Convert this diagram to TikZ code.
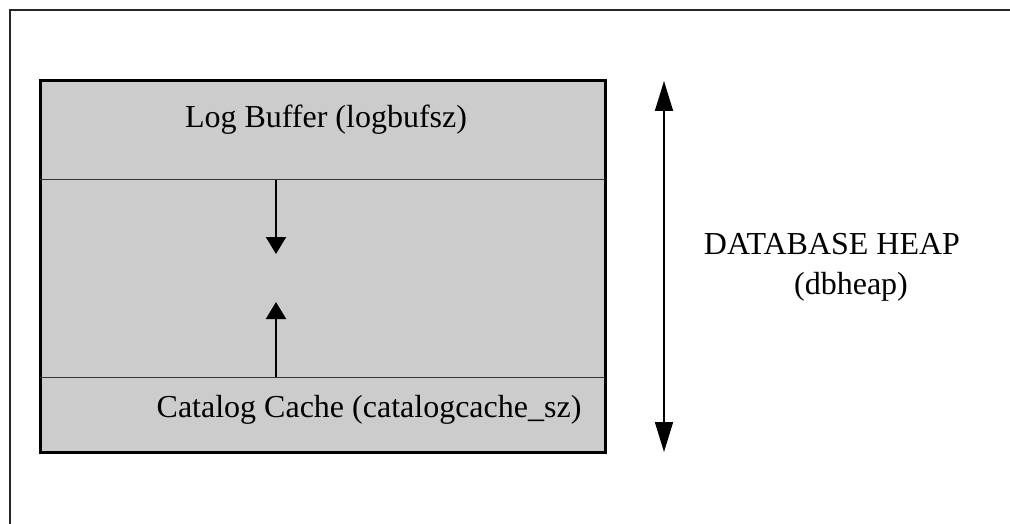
\documentclass[tikz,border=0pt]{standalone}
\usepackage{fontspec}
\setmainfont{Liberation Serif}
\usetikzlibrary{arrows.meta}
\tikzset{
  frameline/.style={line width=1.6pt, black!85},
  heapbox/.style={draw=black, line width=3pt, fill=black!20, rectangle,
                  minimum width=565pt, minimum height=371pt, inner sep=0pt},
  divider/.style={line width=1pt, black!80},
  growarrow/.style={line width=2pt, -{Triangle[width=20pt,length=17pt]}},
  spanarrow/.style={line width=1.6pt, {Triangle[width=18pt,length=30pt]}-{Triangle[width=18pt,length=30pt]}},
  label/.style={font=\fontsize{32}{36}\selectfont, inner sep=0pt}
}
\begin{document}
\begin{tikzpicture}[x=1pt,y=-1pt]
  \useasboundingbox (0,0) rectangle (1010,524);
  % outer frame (top and left edges only visible)
  \coordinate (fc) at (10,10);
  \coordinate (ftr) at (1012,10);
  \coordinate (fbl) at (10,526);
  \draw[frameline] (fbl) -- (fc) -- (ftr);

  % database heap region
  \node[heapbox] (heap) at (322.5,266.5) {};

  % section dividers
  \coordinate (d1l) at (40,180);
  \coordinate (d1r) at (605,180);
  \coordinate (d2l) at (40,377);
  \coordinate (d2r) at (605,377);
  \draw[divider] (d1l) -- (d1r);
  \draw[divider] (d2l) -- (d2r);

  % growth arrows
  \coordinate (downstart) at (276,180);
  \coordinate (downend) at (276,254);
  \coordinate (upstart) at (276,377);
  \coordinate (upend) at (276,302);
  \draw[growarrow] (downstart) -- (downend);
  \draw[growarrow] (upstart) -- (upend);

  % section labels
  \node[label] (logbuf) at (326,120) {Log Buffer (logbufsz)};
  \node[label] (catcache) at (369,410) {Catalog Cache (catalogcache\_sz)};

  % extent of the heap
  \coordinate (spantop) at (664,81);
  \coordinate (spanbot) at (664,452);
  \draw[spanarrow] (spantop) -- (spanbot);

  \node[label] (dbheap) at (832,244) {DATABASE HEAP};
  \node[label] (dbheapparam) at (851,287) {(dbheap)};
\end{tikzpicture}
\end{document}
